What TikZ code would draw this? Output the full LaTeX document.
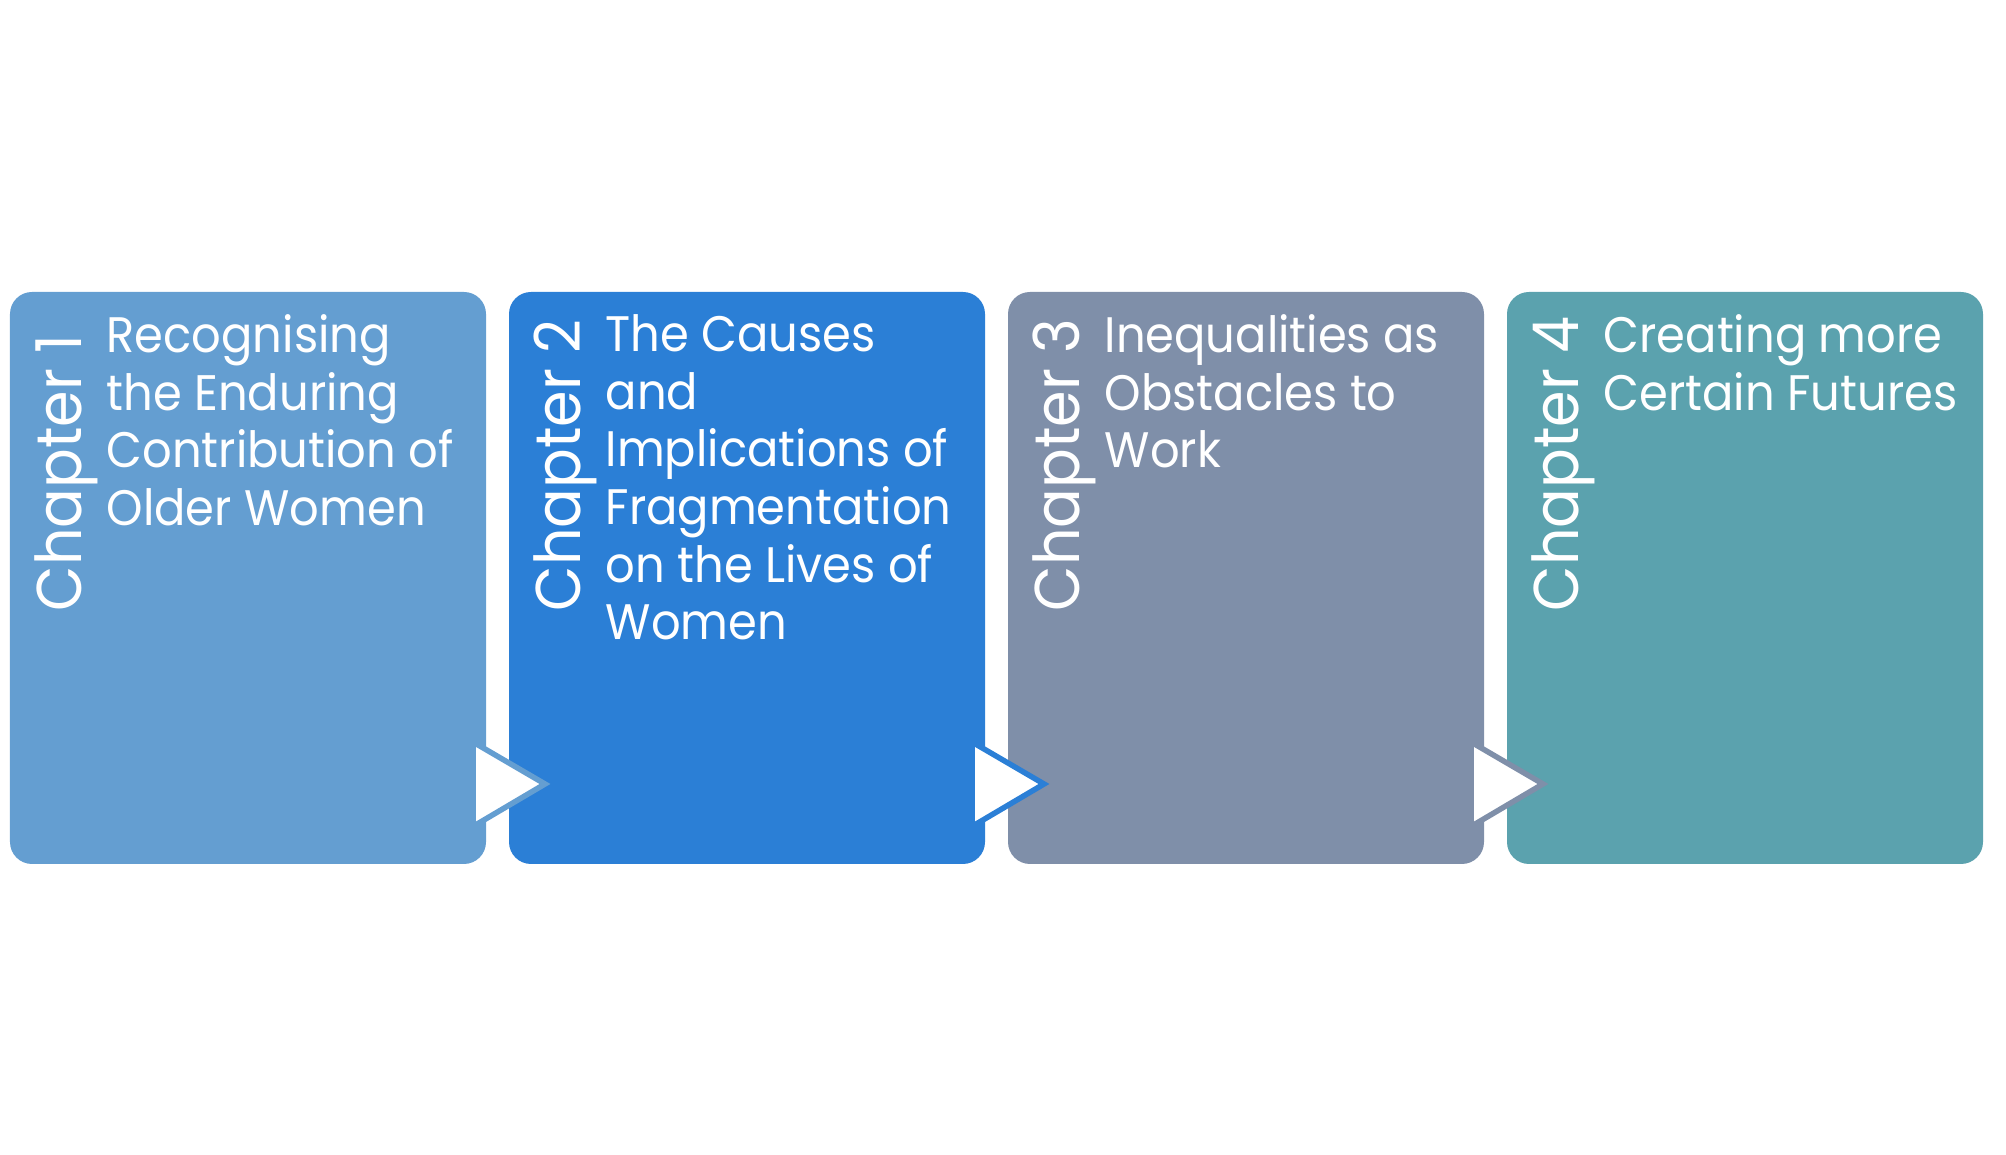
\documentclass[tikz,border=0pt]{standalone}
\usepackage{fontspec}
\setmainfont{Poppins}[FakeStretch=0.93]
\usetikzlibrary{positioning}
\definecolor{chapA}{RGB}{100,158,209}
\definecolor{chapB}{RGB}{43,127,214}
\definecolor{chapC}{RGB}{127,143,169}
\definecolor{chapD}{RGB}{91,162,174}
\begin{document}
\begin{tikzpicture}
    \tikzset{
      chapbox/.style={rectangle, rounded corners=0.22cm, minimum width=4.76cm, minimum height=5.72cm, inner sep=0pt, outer sep=0pt},
      chaplabel/.style={rotate=90, anchor=base west, text=white, inner sep=0pt, font=\fontsize{18}{18}\selectfont},
      chaptext/.style={anchor=north west, align=left, text=white, inner sep=0pt, font=\fontsize{14.2}{16.4}\selectfont},
      nexttri/.style={fill=white, line width=0.055cm, line join=miter}
    }
    \useasboundingbox (0,0) rectangle (20.06,11.55);
    \node [chapbox, fill=chapA] (box1) at (2.48,5.77) {};
    \node [chapbox, fill=chapB, right=0.23cm of box1] (box2) {};
    \node [chapbox, fill=chapC, right=0.23cm of box2] (box3) {};
    \node [chapbox, fill=chapD, right=0.23cm of box3] (box4) {};
    \foreach \n in {1,2,3,4}
      \node [chaplabel] (lab\n) at ([shift={(0.71,-3.2)}]box\n.north west) {Chapter \n};
    \node [chaptext] (txt1) at ([shift={(0.96,-0.22)}]box1.north west)
      {Recognising\\the Enduring\\Contribution of\\Older Women};
    \node [chaptext] (txt2) at ([shift={(0.96,-0.22)}]box2.north west)
      {The Causes\\and\\Implications of\\Fragmentation\\on the Lives of\\Women};
    \node [chaptext] (txt3) at ([shift={(0.96,-0.22)}]box3.north west)
      {Inequalities as\\Obstacles to\\Work};
    \node [chaptext] (txt4) at ([shift={(0.96,-0.22)}]box4.north west)
      {Creating more\\Certain Futures};
    % white pointers between the chapters
    \foreach \b/\c in {box1/chapA, box2/chapB, box3/chapC}
      \draw [nexttri, draw=\c] ([shift={(-0.13,1.22)}]\b.south east) -- ([shift={(0.59,0.80)}]\b.south east)
        -- ([shift={(-0.13,0.375)}]\b.south east) -- cycle;
\end{tikzpicture}
\end{document}
